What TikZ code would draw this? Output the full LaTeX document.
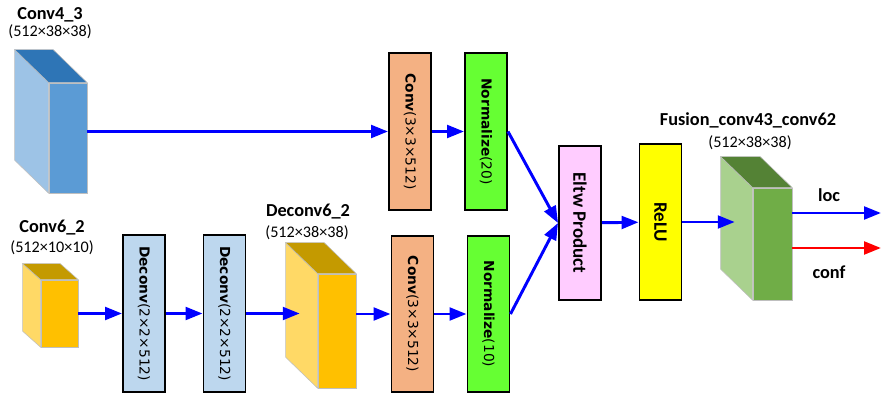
\documentclass[tikz,border=0pt]{standalone}
\usepackage{fontspec}
\setmainfont{Carlito}
\newfontfamily\layerfont{DejaVu Sans}
\usepackage{tikz}
\usetikzlibrary{calc}
\usetikzlibrary{arrows.meta}
\definecolor{flowblue}{RGB}{0,0,255}
\definecolor{flowred}{RGB}{255,0,0}
\definecolor{facegray}{RGB}{191,191,191}
\definecolor{blueface}{HTML}{5B9BD5}
\definecolor{bluetop}{HTML}{2E75B6}
\definecolor{blueside}{HTML}{9DC3E6}
\definecolor{goldface}{HTML}{FFC000}
\definecolor{goldtop}{HTML}{C49A00}
\definecolor{goldside}{HTML}{FFD966}
\definecolor{greenface}{HTML}{70AD47}
\definecolor{greentop}{HTML}{548235}
\definecolor{greenside}{HTML}{A9D18E}
\definecolor{convcol}{HTML}{F4B183}
\definecolor{normcol}{HTML}{66FF33}
\definecolor{deconvcol}{HTML}{BDD7EE}
\definecolor{eltwcol}{HTML}{FFCCFF}
\definecolor{relucol}{HTML}{FFFF00}
% top and side faces of a feature map, drawn from its front node
\newcommand{\sidefaces}[4]{%
  \filldraw[face, fill=#4] (#1.north west) -- ++(#2) -- ($(#1.south west)+(#2)$) -- (#1.south west) -- cycle;
  \filldraw[face, fill=#3] (#1.north west) -- ++(#2) -- ($(#1.north east)+(#2)$) -- (#1.north east) -- cycle;
}
\tikzset{
    face/.style={draw=facegray, line width=0.4pt},
    front/.style={face, inner sep=0pt, minimum width=0.95cm},
    layerbox/.style={draw, line width=1.4pt, inner sep=0pt, minimum width=1.05cm},
    layertext/.style={rotate=-90, inner sep=0pt, font=\layerfont\fontsize{9.8}{12}\selectfont},
    optext/.style={rotate=-90, inner sep=0pt, font=\bfseries\fontsize{13.5}{16}\selectfont},
    title/.style={font=\bfseries\fontsize{13}{15}\selectfont},
    dims/.style={font=\fontsize{11.5}{13}\selectfont},
    flow/.style={draw=flowblue, line width=2.1pt, -{Triangle[length=12pt,width=9pt]}}
}

\begin{document}
\begin{tikzpicture}[x=0.025cm, y=-0.025cm]
    \useasboundingbox (0,0) rectangle (881,394);

    % feature maps
    \node[front, fill=blueface, minimum height=2.75cm] (conv43) at (68,138) {};
    \sidefaces{conv43}{-34,-33}{bluetop}{blueside}
    \node[front, fill=goldface, minimum width=0.925cm, minimum height=1.675cm] (conv62) at (59.5,313.5) {};
    \sidefaces{conv62}{-18,-16}{goldtop}{goldside}
    \node[front, fill=goldface, minimum height=2.85cm] (deconv62) at (337,331) {};
    \sidefaces{deconv62}{-32,-31}{goldtop}{goldside}
    \node[front, fill=greenface, minimum width=0.975cm, minimum height=2.8cm] (fusion) at (772.5,244) {};
    \sidefaces{fusion}{-32,-31}{greentop}{greenside}

    \node[title] (conv43-name) at (50,15) {Conv4\_3};
    \node[dims] (conv43-dims) at (50,32) {(512×38×38)};
    \node[title] (conv62-name) at (52,228) {Conv6\_2};
    \node[dims] (conv62-dims) at (52,248) {(512×10×10)};
    \node[title] (deconv62-name) at (308,212) {Deconv6\_2};
    \node[dims] (deconv62-dims) at (307,233) {(512×38×38)};
    \node[title] (fusion-name) at (748,120) {Fusion\_conv43\_conv62};
    \node[dims] (fusion-dims) at (750,143) {(512×38×38)};

    % layers
    \node[layerbox, fill=convcol, minimum height=3.925cm, label={[layertext]center:{\textbf{Conv}(3×3×512)}}] (convA) at (410,131.5) {};
    \node[layerbox, fill=normcol, minimum height=3.925cm, label={[layertext]center:{\textbf{Normalize}(20)}}] (normA) at (486,131.5) {};
    \node[layerbox, fill=deconvcol, minimum height=3.925cm, label={[layertext]center:{\textbf{Deconv}(2×2×512)}}] (deconvA) at (144,313.5) {};
    \node[layerbox, fill=deconvcol, minimum height=3.925cm, label={[layertext]center:{\textbf{Deconv}(2×2×512)}}] (deconvB) at (224.5,313.5) {};
    \node[layerbox, fill=convcol, minimum height=3.9cm, label={[layertext]center:{\textbf{Conv}(3×3×512)}}] (convB) at (412.5,314) {};
    \node[layerbox, fill=normcol, minimum height=3.9cm, label={[layertext]center:{\textbf{Normalize}(10)}}] (normB) at (488.5,314) {};
    \node[layerbox, fill=eltwcol, minimum height=3.85cm, label={[optext]center:Eltw Product}] (eltw) at (580,223) {};
    \node[layerbox, fill=relucol, minimum height=3.9cm, label={[optext]center:ReLU}] (relu) at (660.5,222) {};

    % connections
    \draw[flow] (conv43.east |- convA) -- (convA);
    \draw[flow] (convA) -- (normA);
    \draw[flow] (normA.east) -- (eltw.west);
    \draw[flow] (conv62) -- (deconvA);
    \draw[flow] (deconvA) -- (deconvB);
    \draw[flow, shorten >=0.45cm] (deconvB.east) -- (deconvB.east -| deconv62.west);
    \draw[flow] (deconv62.east |- convB) -- (convB);
    \draw[flow] (convB) -- (normB);
    \draw[flow] (normB.east) -- (eltw.west);
    \draw[flow] (eltw) -- (relu);
    \draw[flow, shorten >=0.45cm] (relu.east) -- (relu.east -| fusion.west);

    \coordinate (loc-end) at (881,213);
    \coordinate (conf-end) at (881,248);
    \draw[flow] (fusion.east |- loc-end) -- (loc-end);
    \draw[flow, draw=flowred] (fusion.east |- conf-end) -- (conf-end);
    \node[title] (loc) at (829,195) {loc};
    \node[title] (conf) at (829,272) {conf};
\end{tikzpicture}
\end{document}
